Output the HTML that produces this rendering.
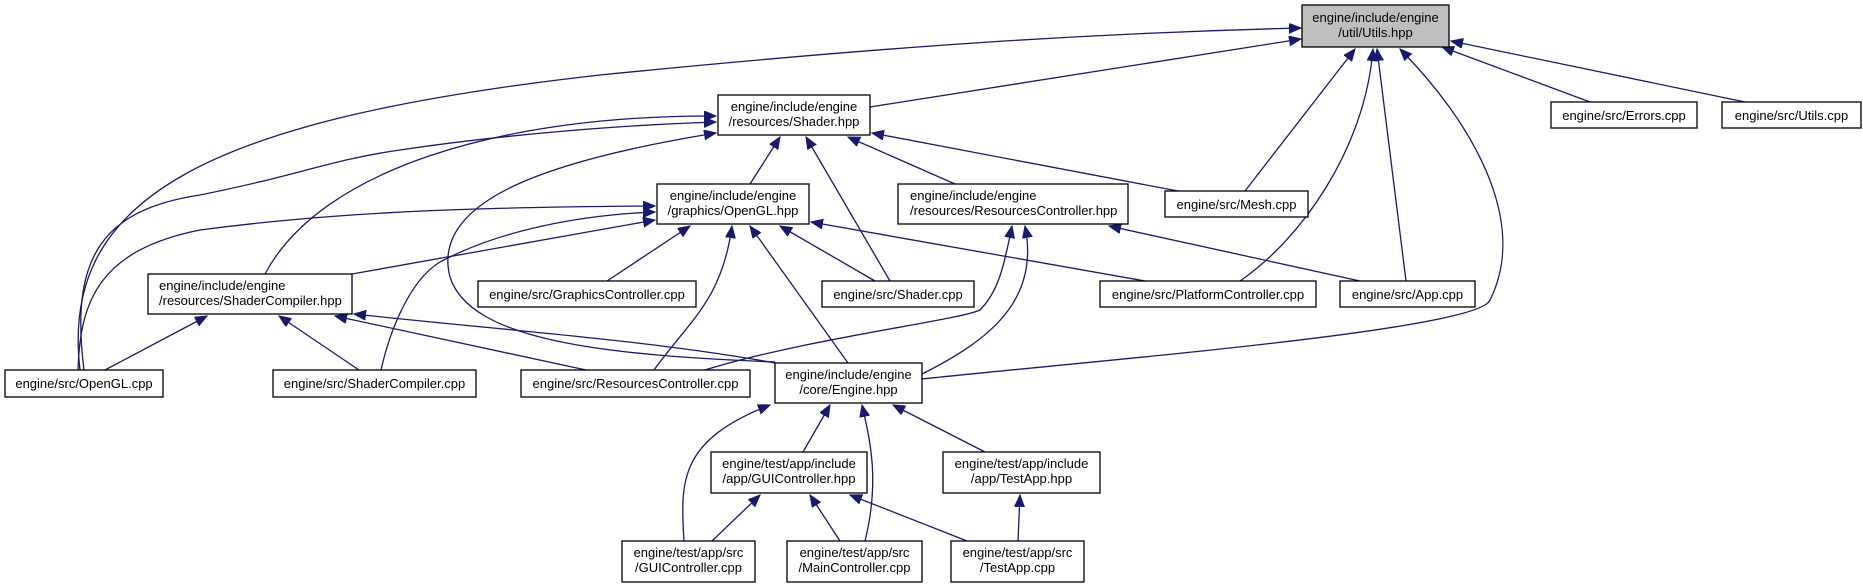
<!DOCTYPE html>
<html><head><meta charset="utf-8"><style>
body{margin:0;background:#fff;width:1863px;height:588px;overflow:hidden}
svg{display:block}
text{font-family:"Liberation Sans",Arial,sans-serif;font-size:13px;fill:#000}
.e{fill:none;stroke:#191970;stroke-width:1.3}
.n{fill:#fff;stroke:#000;stroke-width:1.3}
</style></head><body>
<svg width="1863" height="588" viewBox="0 0 1863 588">
<defs><marker id="a" markerUnits="userSpaceOnUse" markerWidth="14" markerHeight="12" refX="12" refY="5" orient="auto"><path d="M0,0 L12,5 L0,10 z" fill="#191970" stroke="#191970"/></marker></defs>
<g marker-end="url(#a)">
<path class="e" d="M80,370 C60,200 200,120 600,75 C900,45 1100,33 1301,28"/>
<path class="e" d="M870,107 L1301,39"/>
<path class="e" d="M1245,191 L1355,49"/>
<path class="e" d="M1240,281 C1300,240 1365,150 1373,49"/>
<path class="e" d="M1406,281 L1377,49"/>
<path class="e" d="M922,379 C1100,360 1480,330 1490,300 C1530,220 1470,120 1400,49"/>
<path class="e" d="M1590,102 L1442,47"/>
<path class="e" d="M1745,102 L1451,41"/>
<path class="e" d="M750,184 L780,137"/>
<path class="e" d="M890,281 L806,137"/>
<path class="e" d="M955,184 L848,137"/>
<path class="e" d="M1178,191 L872,133"/>
<path class="e" d="M265,274 C320,170 500,115 716,116"/>
<path class="e" d="M84,370 C70,260 100,210 200,195 C300,175 330,160 400,150 C500,135 620,125 716,122"/>
<path class="e" d="M775,362 C600,355 470,340 450,277 C430,200 550,160 716,133"/>
<path class="e" d="M607,281 L690,226"/>
<path class="e" d="M875,281 L780,226"/>
<path class="e" d="M848,363 L750,226"/>
<path class="e" d="M1145,281 L811,222"/>
<path class="e" d="M654,370 C690,320 722,300 732,226"/>
<path class="e" d="M352,274 L655,220"/>
<path class="e" d="M381,370 C390,330 410,280 440,262 C500,230 580,215 655,212"/>
<path class="e" d="M78,370 C80,300 100,250 200,230 C350,210 500,207 655,206"/>
<path class="e" d="M1360,281 L1109,226"/>
<path class="e" d="M705,370 C800,340 960,320 980,310 C1000,290 1005,260 1012,226"/>
<path class="e" d="M922,374 C990,340 1040,300 1025,226"/>
<path class="e" d="M105,370 L207,316"/>
<path class="e" d="M359,370 L279,316"/>
<path class="e" d="M586,370 L335,316"/>
<path class="e" d="M775,363 C650,340 500,330 354,314"/>
<path class="e" d="M803,452 L830,405"/>
<path class="e" d="M865,541 C880,480 870,440 862,405"/>
<path class="e" d="M985,452 L893,405"/>
<path class="e" d="M684,541 C680,480 680,440 770,405"/>
<path class="e" d="M712,541 L760,495"/>
<path class="e" d="M840,541 L810,495"/>
<path class="e" d="M967,541 L850,495"/>
<path class="e" d="M1018,541 L1020,495"/>
</g>
<rect x="1302" y="5" width="147" height="42" fill="#bfbfbf" stroke="#000" stroke-width="1.3"/>
<text x="1375.5" y="22" text-anchor="middle">engine/include/engine</text><text x="1375.5" y="37" text-anchor="middle">/util/Utils.hpp</text>
<rect class="n" x="1551" y="102" width="146" height="26"/><text x="1624" y="120" text-anchor="middle">engine/src/Errors.cpp</text>
<rect class="n" x="1722" y="102" width="139" height="26"/><text x="1791.5" y="120" text-anchor="middle">engine/src/Utils.cpp</text>
<rect class="n" x="718" y="95" width="152" height="40"/><text x="794" y="111" text-anchor="middle">engine/include/engine</text><text x="794" y="126" text-anchor="middle">/resources/Shader.hpp</text>
<rect class="n" x="657" y="184" width="152" height="40"/><text x="733" y="200" text-anchor="middle">engine/include/engine</text><text x="733" y="215" text-anchor="middle">/graphics/OpenGL.hpp</text>
<rect class="n" x="898" y="184" width="230" height="40"/><text x="910" y="200">engine/include/engine</text><text x="910" y="215">/resources/ResourcesController.hpp</text>
<rect class="n" x="1165" y="191" width="143" height="26"/><text x="1236.5" y="209" text-anchor="middle">engine/src/Mesh.cpp</text>
<rect class="n" x="148" y="274" width="204" height="40"/><text x="159" y="290">engine/include/engine</text><text x="159" y="305">/resources/ShaderCompiler.hpp</text>
<rect class="n" x="478" y="281" width="218" height="26"/><text x="587" y="299" text-anchor="middle">engine/src/GraphicsController.cpp</text>
<rect class="n" x="822" y="281" width="152" height="26"/><text x="898" y="299" text-anchor="middle">engine/src/Shader.cpp</text>
<rect class="n" x="1100" y="281" width="216" height="26"/><text x="1208" y="299" text-anchor="middle">engine/src/PlatformController.cpp</text>
<rect class="n" x="1340" y="281" width="135" height="26"/><text x="1407.5" y="299" text-anchor="middle">engine/src/App.cpp</text>
<rect class="n" x="5" y="370" width="158" height="27"/><text x="84" y="388" text-anchor="middle">engine/src/OpenGL.cpp</text>
<rect class="n" x="273" y="370" width="203" height="27"/><text x="374.5" y="388" text-anchor="middle">engine/src/ShaderCompiler.cpp</text>
<rect class="n" x="521" y="370" width="229" height="27"/><text x="635.5" y="388" text-anchor="middle">engine/src/ResourcesController.cpp</text>
<rect class="n" x="775" y="363" width="147" height="40"/><text x="848.5" y="379" text-anchor="middle">engine/include/engine</text><text x="848.5" y="394" text-anchor="middle">/core/Engine.hpp</text>
<rect class="n" x="711" y="452" width="156" height="41"/><text x="789" y="468" text-anchor="middle">engine/test/app/include</text><text x="789" y="483" text-anchor="middle">/app/GUIController.hpp</text>
<rect class="n" x="943" y="452" width="157" height="41"/><text x="1021.5" y="468" text-anchor="middle">engine/test/app/include</text><text x="1021.5" y="483" text-anchor="middle">/app/TestApp.hpp</text>
<rect class="n" x="622" y="541" width="133" height="41"/><text x="688.5" y="557" text-anchor="middle">engine/test/app/src</text><text x="688.5" y="572" text-anchor="middle">/GUIController.cpp</text>
<rect class="n" x="787" y="541" width="135" height="41"/><text x="854.5" y="557" text-anchor="middle">engine/test/app/src</text><text x="854.5" y="572" text-anchor="middle">/MainController.cpp</text>
<rect class="n" x="951" y="541" width="133" height="41"/><text x="1017.5" y="557" text-anchor="middle">engine/test/app/src</text><text x="1017.5" y="572" text-anchor="middle">/TestApp.cpp</text>
</svg>
</body></html>
